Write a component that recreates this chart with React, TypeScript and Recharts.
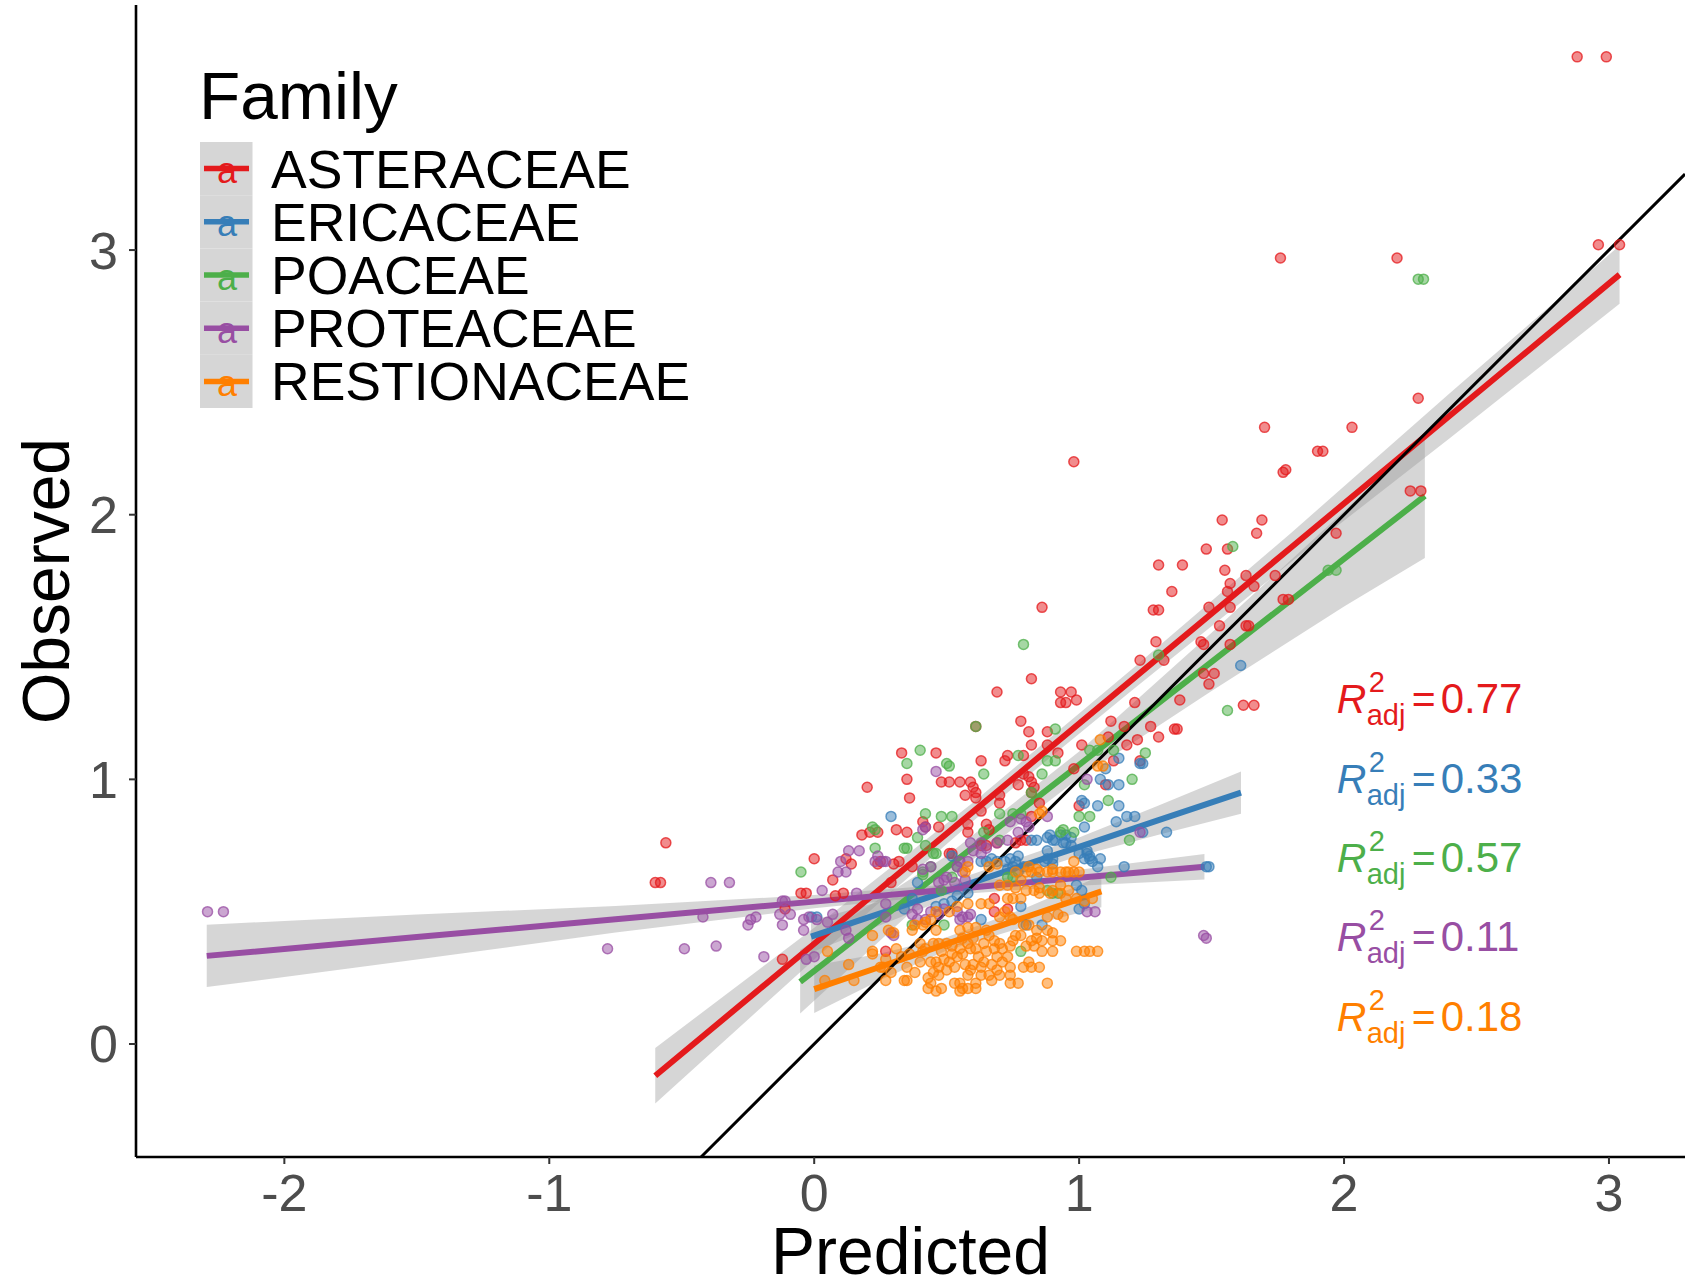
import React from "react";
import {
  Area,
  ComposedChart,
  Line,
  ReferenceDot,
  ReferenceLine,
  Scatter,
  XAxis,
  YAxis
} from "recharts";

const FONT = '"Liberation Sans", Arial, Helvetica, sans-serif';

const families = ["ASTERACEAE", "ERICACEAE", "POACEAE", "PROTEACEAE", "RESTIONACEAE"];
const familyColors = ["#E41A1C", "#377EB8", "#4DAF4A", "#984EA3", "#FF7F00"];

const r2Values = ["0.77", "0.33", "0.57", "0.11", "0.18"];
const r2LabelY = [1.25, 0.95, 0.65, 0.35, 0.05];
const r2LabelX = 1.972;

const xTicks = [-2, -1, 0, 1, 2, 3];
const yTicks = [0, 1, 2, 3];
const xDomain: [number, number] = [-2.56, 3.287];
const yDomain: [number, number] = [-0.427, 3.926];

// [predicted, observed] per species
const asteraceaePoints = [
  [2.88, 3.73], [2.99, 3.73], [2.96, 3.02], [3.04, 3.02], [1.76, 2.97], [2.2, 2.97], [2.28, 2.44],
  [1.7, 2.33], [2.03, 2.33], [1.9, 2.24], [1.92, 2.24], [0.98, 2.2], [1.77, 2.16], [1.78, 2.17],
  [2.25, 2.09], [2.29, 2.09], [1.54, 1.98], [1.69, 1.98], [1.67, 1.93], [1.97, 1.93], [1.48, 1.87],
  [1.56, 1.87], [1.3, 1.81], [1.39, 1.81], [1.55, 1.79], [1.63, 1.77], [1.74, 1.77], [1.57, 1.74],
  [1.56, 1.71], [1.66, 1.73], [1.35, 1.71], [0.86, 1.65], [1.28, 1.64], [1.3, 1.64], [1.49, 1.65],
  [1.57, 1.65], [1.77, 1.68], [1.79, 1.68], [1.53, 1.58], [1.63, 1.58], [1.64, 1.58], [1.46, 1.52],
  [1.47, 1.51], [1.29, 1.52], [1.57, 1.51], [1.23, 1.45], [1.32, 1.45], [1.47, 1.4], [1.51, 1.4],
  [1.49, 1.36], [1.62, 1.28], [1.66, 1.28], [0.82, 1.38], [0.69, 1.33], [0.93, 1.33], [0.97, 1.33],
  [0.93, 1.29], [0.95, 1.29], [0.99, 1.3], [1.21, 1.29], [1.38, 1.3], [0.61, 1.2], [0.78, 1.22],
  [0.81, 1.18], [0.88, 1.18], [1.12, 1.22], [1.17, 1.2], [1.27, 1.2], [1.36, 1.19], [1.37, 1.19],
  [1.22, 1.15], [1.3, 1.16], [0.82, 1.13], [0.88, 1.13], [1.01, 1.13], [1.11, 1.16], [1.18, 1.13],
  [0.33, 1.1], [0.46, 1.1], [0.73, 1.09], [0.72, 1.07], [0.79, 1.09], [0.63, 1.07], [0.92, 1.1],
  [1.13, 1.07], [1.23, 1.07], [0.98, 1.04], [0.35, 1.0], [0.48, 0.99], [0.51, 0.99], [0.55, 0.99],
  [0.59, 0.99], [0.6, 0.97], [0.61, 0.95], [0.77, 0.98], [0.82, 0.99], [0.83, 0.97], [0.81, 1.01],
  [0.79, 1.02], [0.36, 0.93], [0.57, 0.94], [0.61, 0.93], [0.7, 0.94], [0.82, 0.95], [0.85, 0.91],
  [0.7, 0.91], [0.63, 0.88], [1.0, 0.9], [1.1, 0.98], [0.41, 0.84], [0.42, 0.82], [0.47, 0.82],
  [0.58, 0.83], [0.65, 0.83], [0.82, 0.86], [0.2, 0.97], [0.18, 0.79], [0.24, 0.8], [0.21, 0.8],
  [0.31, 0.81], [0.35, 0.8], [0.58, 0.8], [0.66, 0.81], [0.63, 0.75], [0.65, 0.75], [0.69, 0.76],
  [0.76, 0.76], [0.78, 0.77], [0.8, 0.77], [0.52, 0.72], [0.51, 0.72], [0.32, 0.69], [0.3, 0.68],
  [0.37, 0.67], [0.0, 0.7], [0.07, 0.62], [0.12, 0.7], [0.14, 0.68], [0.24, 0.68], [0.25, 0.69],
  [0.29, 0.61], [-0.56, 0.76], [-0.6, 0.61], [-0.58, 0.61], [-0.05, 0.57], [-0.03, 0.57],
  [-0.11, 0.51], [0.08, 0.56], [0.11, 0.57], [-0.12, 0.32], [0.27, 0.35], [0.68, 0.55],
  [0.68, 0.5], [0.73, 0.51]
];

const ericaceaePoints = [
  [1.61, 1.43], [1.49, 0.67], [1.33, 0.8], [1.23, 1.06], [1.15, 1.08], [1.1, 1.04], [1.24, 1.06],
  [1.17, 0.67], [1.08, 0.7], [1.05, 0.69], [1.04, 0.71], [1.07, 0.67], [1.0, 0.72], [1.02, 0.7],
  [1.03, 0.72], [0.95, 0.76], [0.97, 0.78], [0.95, 0.79], [0.93, 0.79], [0.9, 0.77], [0.89, 0.79],
  [0.88, 0.73], [0.9, 0.7], [0.87, 0.69], [0.84, 0.77], [0.82, 0.77], [0.77, 0.71], [1.01, 0.58],
  [0.99, 0.6], [1.02, 0.53], [1.0, 0.51], [0.86, 0.45], [0.78, 0.52], [0.8, 0.45], [0.69, 0.69],
  [0.65, 0.69], [0.63, 0.69], [0.58, 0.57], [0.54, 0.56], [0.52, 0.54], [0.49, 0.53], [0.39, 0.61],
  [0.37, 0.55], [0.34, 0.51], [0.46, 0.52], [0.63, 0.47], [0.73, 0.66], [0.75, 0.67], [0.79, 0.67],
  [0.29, 0.86], [0.52, 0.71], [0.67, 0.7], [0.76, 0.69], [0.77, 0.65], [0.88, 0.78], [0.91, 0.77],
  [0.94, 0.76], [0.97, 0.75], [1.01, 0.92], [1.02, 0.91], [1.07, 0.9], [1.08, 1.0], [1.11, 0.98],
  [1.15, 0.98], [1.15, 0.9], [1.18, 0.86], [1.21, 0.86], [1.14, 0.84], [1.02, 0.82], [1.03, 0.73],
  [1.04, 0.7], [0.72, 0.69], [0.74, 0.7], [0.88, 0.7], [0.9, 0.68], [-0.01, 0.48], [0.01, 0.48],
  [0.84, 0.63], [1.24, 0.8], [1.48, 0.67]
];

const poaceaePoints = [
  [2.28, 2.89], [2.3, 2.89], [1.58, 1.88], [1.94, 1.79], [1.97, 1.79], [0.79, 1.51], [1.56, 1.26],
  [1.3, 1.47], [0.91, 1.19], [0.61, 1.2], [0.4, 1.11], [0.35, 1.06], [0.5, 1.06], [0.51, 1.05],
  [0.64, 1.02], [0.77, 1.09], [0.88, 1.07], [0.91, 1.07], [0.86, 1.02], [1.04, 1.11], [1.07, 1.11],
  [1.13, 1.11], [1.02, 0.98], [1.11, 0.92], [1.19, 0.77], [0.42, 0.87], [0.48, 0.86], [0.52, 0.86],
  [0.7, 0.87], [0.75, 0.87], [0.78, 0.87], [1.0, 0.86], [1.04, 0.86], [0.94, 0.81], [0.98, 0.8],
  [0.39, 0.78], [0.82, 0.95], [0.22, 0.82], [0.23, 0.81], [0.23, 0.74], [0.34, 0.74], [0.35, 0.74],
  [0.42, 0.75], [0.46, 0.72], [0.45, 0.72], [0.41, 0.65], [0.93, 0.8], [1.12, 0.63], [0.92, 0.57],
  [0.88, 0.58], [0.78, 0.35], [0.64, 0.8], [0.7, 0.77], [0.73, 0.63], [0.75, 0.63], [0.37, 0.45],
  [0.49, 0.45], [0.52, 0.63], [0.48, 0.58], [0.54, 0.67], [-0.05, 0.65], [0.41, 0.64], [0.44, 0.67],
  [0.9, 0.57], [1.25, 1.1], [1.2, 1.0]
];

const proteaceaePoints = [
  [-2.29, 0.5], [-2.23, 0.5], [-0.78, 0.36], [-0.49, 0.36], [-0.37, 0.37], [-0.19, 0.33],
  [-0.39, 0.61], [-0.32, 0.61], [-0.42, 0.48], [-0.25, 0.45], [-0.24, 0.47], [-0.22, 0.48],
  [-0.12, 0.45], [-0.13, 0.49], [-0.09, 0.49], [-0.12, 0.54], [-0.11, 0.54], [0.03, 0.58],
  [-0.04, 0.47], [-0.02, 0.48], [0.01, 0.47], [-0.04, 0.43], [0.05, 0.46], [0.07, 0.49],
  [0.1, 0.69], [0.09, 0.65], [0.12, 0.65], [0.13, 0.73], [0.17, 0.73], [0.23, 0.69], [0.24, 0.71],
  [0.26, 0.69], [0.16, 0.57], [0.0, 0.33], [-0.03, 0.32], [0.12, 0.43], [0.13, 0.4], [0.27, 0.53],
  [0.27, 0.48], [1.47, 0.41], [1.48, 0.4], [1.03, 0.5], [1.06, 0.5], [1.23, 0.8], [0.41, 0.81],
  [0.27, 0.69], [0.29, 0.42], [0.3, 0.41], [0.39, 0.51], [0.37, 0.49], [0.39, 0.47], [0.42, 0.47],
  [0.44, 0.5], [0.47, 0.49], [0.56, 0.48], [0.55, 0.47], [0.58, 0.48], [0.49, 0.62], [0.5, 0.63],
  [0.47, 0.61], [0.55, 0.69], [0.58, 0.69], [0.56, 0.65], [0.6, 0.73], [0.63, 0.72], [0.65, 0.74],
  [0.63, 0.76], [0.59, 0.76], [0.69, 0.76], [0.73, 0.77], [0.41, 0.66], [0.44, 0.67], [0.46, 1.03],
  [0.42, 0.82], [0.88, 0.86], [0.78, 0.85], [0.8, 0.84], [1.03, 1.0], [0.54, 0.67], [0.57, 0.62],
  [0.53, 0.61], [0.49, 0.51], [0.54, 0.5], [0.59, 0.49], [0.74, 0.84], [0.81, 0.82], [0.77, 0.8]
];

const restionaceaePoints = [
  [1.08, 1.15], [1.09, 1.05], [1.07, 1.05], [0.85, 0.87], [0.86, 0.88], [0.8, 0.65], [0.82, 0.65],
  [0.85, 0.65], [0.88, 0.65], [0.9, 0.65], [0.93, 0.65], [0.95, 0.65], [0.98, 0.65], [0.76, 0.65],
  [0.81, 0.67], [0.84, 0.66], [0.9, 0.66], [0.96, 0.65], [1.0, 0.65], [0.98, 0.69], [0.69, 0.68],
  [0.66, 0.67], [0.58, 0.67], [0.57, 0.65], [0.8, 0.58], [0.83, 0.58], [0.85, 0.59], [0.9, 0.58],
  [0.93, 0.6], [0.96, 0.58], [0.85, 0.57], [0.89, 0.57], [0.93, 0.57], [0.73, 0.6], [0.76, 0.59],
  [0.78, 0.62], [0.7, 0.6], [0.95, 0.55], [0.99, 0.55], [1.02, 0.54], [1.05, 0.55], [0.73, 0.55],
  [0.75, 0.55], [0.78, 0.55], [0.63, 0.53], [0.66, 0.53], [0.58, 0.53], [0.54, 0.52], [0.51, 0.5],
  [0.46, 0.5], [0.94, 0.48], [0.88, 0.48], [0.92, 0.49], [0.74, 0.48], [0.75, 0.47], [0.7, 0.48],
  [0.72, 0.5], [0.44, 0.47], [0.42, 0.46], [0.38, 0.45], [0.55, 0.43], [0.58, 0.44], [0.61, 0.44],
  [0.56, 0.4], [0.6, 0.4], [0.65, 0.43], [0.66, 0.41], [0.68, 0.39], [0.7, 0.38], [0.68, 0.36],
  [0.71, 0.36], [0.74, 0.37], [0.75, 0.39], [0.76, 0.41], [0.69, 0.33], [0.73, 0.33], [0.65, 0.35],
  [0.79, 0.45], [0.81, 0.45], [0.84, 0.43], [0.88, 0.43], [0.9, 0.42], [0.78, 0.41], [0.8, 0.37],
  [0.83, 0.37], [0.5, 0.38], [0.52, 0.37], [0.47, 0.38], [0.45, 0.38], [0.4, 0.38], [0.42, 0.36],
  [0.37, 0.43], [0.41, 0.45], [0.46, 0.43], [0.3, 0.42], [0.28, 0.43], [0.22, 0.41], [0.22, 0.35],
  [0.93, 0.39], [0.99, 0.35], [1.02, 0.35], [1.04, 0.35], [1.07, 0.35], [0.9, 0.35], [0.82, 0.39],
  [0.84, 0.4], [0.86, 0.39], [0.9, 0.39], [0.86, 0.35], [0.54, 0.33], [0.56, 0.34], [0.59, 0.36],
  [0.55, 0.36], [0.05, 0.35], [0.26, 0.29], [0.81, 0.31], [0.82, 0.29], [0.79, 0.29], [0.74, 0.29],
  [0.85, 0.29], [0.7, 0.26], [0.74, 0.26], [0.66, 0.26], [0.67, 0.24], [0.63, 0.26], [0.63, 0.29],
  [0.59, 0.28], [0.58, 0.26], [0.61, 0.23], [0.58, 0.21], [0.56, 0.21], [0.55, 0.23], [0.53, 0.23],
  [0.48, 0.21], [0.44, 0.23], [0.43, 0.25], [0.47, 0.26], [0.5, 0.28], [0.51, 0.31], [0.47, 0.29],
  [0.45, 0.27], [0.46, 0.31], [0.35, 0.24], [0.35, 0.29], [0.29, 0.27], [0.27, 0.24], [0.27, 0.32],
  [0.13, 0.3], [0.15, 0.24], [0.04, 0.24], [0.34, 0.24], [0.88, 0.23], [0.77, 0.23], [0.74, 0.23],
  [0.25, 0.29], [0.22, 0.34], [0.43, 0.21], [0.46, 0.2], [0.55, 0.2], [0.61, 0.21], [0.41, 0.35],
  [0.6, 0.3], [0.62, 0.33], [0.52, 0.34], [0.49, 0.32], [0.53, 0.29], [0.57, 0.3], [0.64, 0.31],
  [0.67, 0.3], [0.71, 0.31], [0.69, 0.28], [0.4, 0.31], [0.38, 0.27], [0.33, 0.33], [0.31, 0.36],
  [0.36, 0.34], [0.48, 0.35], [0.44, 0.31], [0.61, 0.36], [0.64, 0.38], [0.58, 0.38]
];

const familyPoints = [
  asteraceaePoints,
  ericaceaePoints,
  poaceaePoints,
  proteaceaePoints,
  restionaceaePoints
];

// lm fit and 95% confidence band, sampled along each family's x range
const fitX = [
  [-0.6, 0, 0.6, 1.2, 1.8, 2.4, 3.04],
  [-0.012, 0.5, 1.0, 1.3, 1.611],
  [-0.053, 0.5, 1.0, 1.5, 2.0, 2.305],
  [-2.293, -1.5, -0.75, 0, 0.5, 1.0, 1.473],
  [0, 0.25, 0.5, 0.8, 1.084]
];
const fitY = [
  [-0.12, 0.379, 0.878, 1.377, 1.876, 2.375, 2.907],
  [0.406, 0.578, 0.745, 0.846, 0.95],
  [0.235, 0.666, 1.055, 1.444, 1.833, 2.071],
  [0.333, 0.404, 0.471, 0.538, 0.583, 0.628, 0.67],
  [0.207, 0.292, 0.378, 0.48, 0.577]
];
const fitLower = [
  [-0.225, 0.319, 0.843, 1.337, 1.821, 2.29, 2.797],
  [0.346, 0.548, 0.71, 0.791, 0.87],
  [0.115, 0.621, 1.005, 1.334, 1.653, 1.836],
  [0.215, 0.319, 0.421, 0.513, 0.563, 0.598, 0.622],
  [0.117, 0.242, 0.353, 0.445, 0.517]
];
const fitUpper = [
  [-0.015, 0.439, 0.913, 1.417, 1.931, 2.46, 3.017],
  [0.466, 0.608, 0.78, 0.901, 1.03],
  [0.355, 0.711, 1.105, 1.554, 2.013, 2.306],
  [0.451, 0.489, 0.521, 0.563, 0.603, 0.658, 0.718],
  [0.297, 0.342, 0.403, 0.515, 0.637]
];

// 1:1 reference
const identityLine = [
  { x: -0.427, y: -0.427 },
  { x: 3.287, y: 3.287 }
];

const pointData = familyPoints.map((pts) => pts.map(([x, y]) => ({ x, y })));
const fitData = fitX.map((xs, i) =>
  xs.map((x, j) => ({ x, fit: fitY[i][j], band: [fitLower[i][j], fitUpper[i][j]] }))
);

function makeDot(color: string) {
  return (props: any) => (
    <circle
      cx={props.cx}
      cy={props.cy}
      r={5}
      fill={color}
      fillOpacity={0.5}
      stroke={color}
      strokeOpacity={0.75}
      strokeWidth={1.5}
    />
  );
}

function makeR2Label(i: number) {
  const color = familyColors[i];
  return (props: any) => {
    const { x, y } = props.viewBox;
    return (
      <text fill={color} fontFamily={FONT}>
        <tspan x={x} y={y} fontSize={41} fontStyle="italic">R</tspan>
        <tspan x={x + 32} y={y - 21} fontSize={29}>2</tspan>
        <tspan x={x + 30} y={y + 12} fontSize={29}>adj</tspan>
        <tspan x={x + 75} y={y} fontSize={41}>=</tspan>
        <tspan x={x + 104} y={y} fontSize={42}>{r2Values[i]}</tspan>
      </text>
    );
  };
}

const renderXTitle = (props: any) => {
  const { x, y, width } = props.viewBox;
  return (
    <text x={x + width / 2} y={y + 117} textAnchor="middle" fontSize={66} fontFamily={FONT} fill="#000">
      Predicted
    </text>
  );
};

const renderYTitle = (props: any) => {
  const { x, y, height } = props.viewBox;
  const cx = x + 69;
  const cy = y + height / 2;
  return (
    <text
      x={cx}
      y={cy}
      transform={`rotate(-90 ${cx} ${cy})`}
      textAnchor="middle"
      fontSize={66}
      fontFamily={FONT}
      fill="#000"
    >
      Observed
    </text>
  );
};

function FamilyLegend() {
  const rowH = 53.2;
  const top = 142;
  return (
    <svg
      width={720}
      height={420}
      style={{ position: "absolute", left: 0, top: 0, pointerEvents: "none" }}
    >
      <text x={199} y={119} fontSize={67.5} fontFamily={FONT} fill="#000">
        Family
      </text>
      {families.map((name, i) => {
        const cy = top + rowH * i + rowH / 2;
        return (
          <g key={name}>
            <rect x={200} y={top + rowH * i} width={52.5} height={rowH} fill="#D6D6D6" />
            <line x1={204} x2={249} y1={cy} y2={cy} stroke={familyColors[i]} strokeWidth={5.5} />
            <text x={227} y={cy + 14.5} textAnchor="middle" fontSize={36} fontFamily={FONT} fill={familyColors[i]}>
              a
            </text>
            <text x={271} y={cy + 19} fontSize={53.5} fontFamily={FONT} fill="#000">
              {name}
            </text>
          </g>
        );
      })}
    </svg>
  );
}

export default function App() {
  return (
    <div style={{ position: "absolute", left: 0, top: 0, width: 1685, height: 1283, background: "#fff" }}>
      <ComposedChart width={1685} height={1283} margin={{ top: 5, right: 0, bottom: 0, left: 0 }}>
        <XAxis
          type="number"
          dataKey="x"
          domain={xDomain}
          allowDataOverflow
          ticks={xTicks}
          interval={0}
          height={126}
          tickSize={7}
          tickMargin={10}
          axisLine={{ stroke: "#000", strokeWidth: 2.6 }}
          tickLine={{ stroke: "#333", strokeWidth: 2 }}
          tick={{ fontSize: 52, fill: "#4D4D4D", fontFamily: FONT }}
          label={renderXTitle}
        />
        <YAxis
          type="number"
          domain={yDomain}
          allowDataOverflow
          ticks={yTicks}
          interval={0}
          width={136}
          tickSize={7}
          tickMargin={11}
          axisLine={{ stroke: "#000", strokeWidth: 2.6 }}
          tickLine={{ stroke: "#333", strokeWidth: 2 }}
          tick={{ fontSize: 52, fill: "#4D4D4D", fontFamily: FONT }}
          label={renderYTitle}
        />

        {pointData.map((pts, i) => (
          <Scatter
            key={`pts-${families[i]}`}
            data={pts}
            dataKey="y"
            shape={makeDot(familyColors[i])}
            isAnimationActive={false}
          />
        ))}

        {fitData.map((d, i) => [
          <Area
            key={`band-${families[i]}`}
            data={d}
            dataKey="band"
            type="linear"
            stroke="none"
            fill="#999999"
            fillOpacity={0.4}
            dot={false}
            activeDot={false}
            isAnimationActive={false}
          />,
          <Line
            key={`fit-${families[i]}`}
            data={d}
            dataKey="fit"
            type="linear"
            stroke={familyColors[i]}
            strokeWidth={6}
            dot={false}
            activeDot={false}
            isAnimationActive={false}
          />
        ])}

        <ReferenceLine
          segment={identityLine}
          stroke="#000"
          strokeWidth={3}
          ifOverflow="visible"
        />

        {r2Values.map((v, i) => (
          <ReferenceDot
            key={`r2-${v}-${i}`}
            x={r2LabelX}
            y={r2LabelY[i]}
            r={0}
            fill="none"
            stroke="none"
            label={makeR2Label(i)}
          />
        ))}
      </ComposedChart>
      <FamilyLegend />
    </div>
  );
}
